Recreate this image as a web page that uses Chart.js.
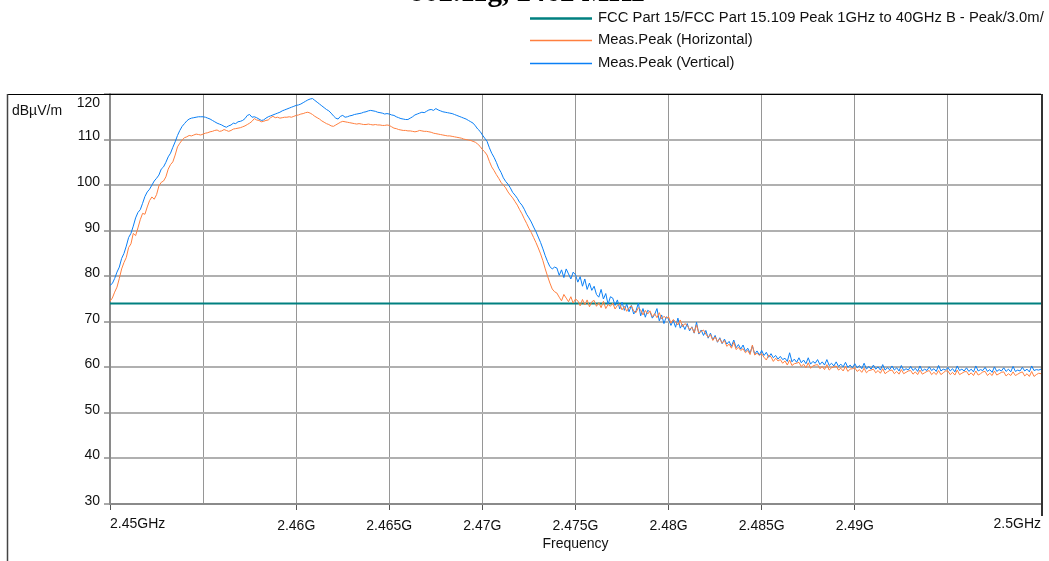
<!DOCTYPE html>
<html><head><meta charset="utf-8">
<script src="https://cdn.jsdelivr.net/npm/chart.js@4"></script>
<style>html,body{margin:0;padding:0;background:#fff;overflow:hidden}#wrap{position:relative;width:1049px;height:561px}</style>
</head><body><div id="wrap"><canvas id="c" width="1049" height="561"></canvas></div>
<script>
const chartTitle = '802.11g, 2462 MHz';
const yAxisTitle = 'dBµV/m';
const xAxisTitle = 'Frequency';
const legendLabels = ['FCC Part 15/FCC Part 15.109 Peak 1GHz to 40GHz B - Peak/3.0m/', 'Meas.Peak (Horizontal)', 'Meas.Peak (Vertical)'];
const sweepStartMHz = 2450, sweepStepMHz = 0.125;
const xTickValuesMHz = [2450, 2455, 2460, 2465, 2470, 2475, 2480, 2485, 2490, 2495, 2500];
const xTickLabels = ['2.45GHz', '', '2.46G', '2.465G', '2.47G', '2.475G', '2.48G', '2.485G', '2.49G', '', '2.5GHz'];
const yMin = 30, yMax = 120, yStep = 10;
const limitFreqMHz = [2450, 2500];
const limitLevel = [74, 74];
const horizontal = [
74.5, 75.2, 76.5, 77.6, 79.5, 81.6, 83.0, 84.1,
86.3, 87.1, 89.4, 88.9, 90.6, 92.4, 93.8, 93.6,
95.2, 96.6, 97.4, 96.9, 97.9, 99.8, 100.6, 100.9,
101.8, 103.5, 104.5, 105.1, 106.6, 108.4, 109.2, 109.9,
110.4, 110.6, 110.9, 110.8, 111.0, 111.2, 111.1, 111.0,
111.2, 111.4, 111.5, 111.7, 111.8, 112.0, 112.1, 111.8,
111.9, 112.2, 112.0, 111.8, 112.0, 112.3, 112.4, 112.5,
112.6, 112.8, 113.0, 113.3, 113.6, 114.0, 114.6, 114.3,
114.2, 113.9, 114.0, 114.2, 114.3, 114.8, 115.1, 114.8,
114.9, 114.7, 114.8, 114.9, 114.9, 115.0, 114.9, 115.1,
115.3, 115.4, 115.6, 115.7, 115.9, 116.0, 115.8, 115.5,
115.1, 114.8, 114.5, 114.1, 113.8, 113.5, 113.3, 113.0,
112.9, 113.2, 113.5, 113.8, 114.0, 113.9, 113.8, 113.7,
113.6, 113.5, 113.4, 113.5, 113.4, 113.3, 113.3, 113.4,
113.3, 113.2, 113.3, 113.2, 113.2, 113.1, 113.1, 113.2,
113.1, 112.8, 112.5, 112.4, 112.2, 112.1, 112.0, 112.0,
111.9, 111.9, 111.8, 111.7, 111.8, 112.0, 111.9, 111.8,
111.8, 111.7, 111.6, 111.4, 111.3, 111.2, 111.1, 111.0,
110.9, 110.8, 110.8, 110.7, 110.6, 110.5, 110.4, 110.3,
110.1, 110.0, 109.9, 109.8, 109.6, 109.4, 109.0, 108.5,
107.8, 107.3, 106.6, 105.2, 104.0, 103.2, 102.3, 101.5,
100.6, 100.0, 99.4, 98.5, 97.8, 97.2, 96.4, 95.6,
94.6, 93.7, 92.6, 91.6, 90.5, 89.6, 88.5, 87.4,
86.2, 84.9, 83.4, 81.6, 80.0, 78.5, 77.2, 76.6,
76.3, 75.4, 74.6, 76.0, 75.2, 74.4, 75.5, 74.1,
75.0, 74.6, 73.5, 74.9, 73.7, 74.8, 73.3, 74.4,
74.7, 73.4, 74.2, 73.1, 74.5, 72.9, 73.8, 73.4,
74.1, 72.8, 73.6, 73.9, 72.6, 73.4, 72.3, 73.1,
73.5, 72.4, 72.0, 73.1, 72.6, 71.5, 72.5, 71.7,
72.4, 71.1, 71.8, 70.9, 72.0, 70.6, 71.2, 70.8,
71.1, 69.7, 70.5, 70.0, 69.3, 70.4, 68.9, 69.6,
69.2, 68.3, 68.8, 67.6, 69.3, 67.5, 67.9, 68.2,
67.3, 66.6, 67.2, 65.9, 66.7, 65.6, 66.3, 65.3,
65.9, 64.6, 65.1, 64.2, 65.5, 63.9, 64.4, 63.7,
64.1, 63.2, 63.7, 62.8, 64.9, 62.7, 63.1, 62.6,
63.0, 62.2, 61.6, 62.7, 62.3, 61.3, 62.0, 61.4,
61.7, 60.9, 61.4, 60.5, 61.6, 60.4, 60.8, 60.9,
61.1, 60.2, 60.7, 59.9, 61.0, 59.8, 60.3, 60.5,
60.6, 59.7, 60.2, 59.5, 60.6, 59.4, 59.9, 60.1,
60.3, 59.4, 59.8, 59.2, 60.2, 59.1, 59.6, 59.7,
59.9, 59.1, 59.5, 58.9, 59.8, 58.8, 59.3, 59.4,
59.6, 58.8, 59.3, 58.7, 59.7, 58.6, 59.0, 59.3,
59.4, 58.6, 59.1, 58.5, 59.5, 58.6, 58.9, 59.2,
59.3, 58.5, 59.0, 58.4, 59.4, 58.5, 58.8, 59.1,
59.3, 58.4, 58.9, 58.4, 59.3, 58.4, 58.8, 59.2,
59.2, 58.4, 58.9, 58.3, 59.4, 58.4, 58.7, 59.0,
59.1, 58.3, 58.8, 58.2, 59.2, 58.3, 58.6, 59.0,
59.1, 58.2, 58.7, 58.2, 59.2, 58.3, 58.6, 58.9,
59.0, 58.1, 58.6, 58.2, 59.0, 58.2, 58.5, 58.8,
59.0, 58.1, 58.6, 58.0, 59.1, 58.0, 58.4, 58.7,
58.6
];
const vertical = [
78.0, 78.4, 79.5, 80.9, 82.0, 83.9, 85.0, 86.6,
88.5, 89.4, 91.0, 92.8, 94.0, 94.6, 96.0, 97.5,
98.5, 99.1, 100.0, 100.9, 101.5, 102.2, 103.5, 104.0,
105.0, 106.2, 107.0, 108.3, 109.5, 110.9, 112.0, 112.9,
113.5, 114.1, 114.5, 114.7, 114.8, 114.9, 115.0, 115.0,
115.0, 114.9, 114.7, 114.5, 114.2, 113.9, 113.6, 113.4,
113.2, 112.9, 112.7, 113.0, 113.2, 113.6, 113.5, 113.9,
114.0, 114.2, 114.6, 115.3, 115.5, 114.9, 115.0, 114.8,
114.5, 114.2, 114.3, 114.7, 115.0, 115.2, 115.4, 115.6,
115.8, 116.0, 116.3, 116.5, 116.7, 116.9, 117.1, 117.3,
117.5, 117.6, 117.8, 118.1, 118.4, 118.7, 118.9, 119.0,
118.6, 118.2, 117.8, 117.4, 117.0, 116.6, 116.3, 115.8,
115.2, 114.7, 114.5, 115.1, 115.3, 114.9, 115.0, 115.2,
115.3, 115.5, 115.6, 115.7, 115.8, 116.0, 116.1, 116.3,
116.4, 116.3, 116.2, 116.0, 115.9, 115.8, 115.6, 115.7,
115.6, 115.4, 115.3, 115.0, 114.8, 114.6, 114.5, 114.4,
114.4, 114.7, 115.0, 115.4, 115.6, 115.8, 116.0, 115.9,
116.2, 116.5, 116.6, 116.4, 116.8, 116.5, 116.3, 116.1,
116.0, 115.9, 115.8, 115.7, 115.5, 115.3, 115.1, 114.9,
114.7, 114.5, 114.2, 113.9, 113.6, 113.0, 112.3, 111.8,
111.0, 110.3, 109.6, 108.2, 107.0, 106.1, 105.0, 103.7,
102.8, 101.6, 100.8, 100.2, 99.4, 98.4, 97.8, 97.1,
96.2, 95.6, 94.7, 93.6, 92.8, 91.9, 90.8, 89.8,
88.6, 87.4, 86.0, 84.5, 83.2, 82.1, 81.6, 82.0,
81.8, 80.2, 81.4, 79.7, 81.6, 80.5, 79.4, 80.9,
80.3, 78.7, 79.9, 77.8, 79.4, 77.1, 78.5, 76.9,
77.8, 76.0, 75.4, 77.1, 75.0, 76.2, 73.8, 75.5,
75.2, 73.6, 74.8, 72.8, 74.3, 72.5, 73.9, 72.2,
73.6, 71.7, 72.4, 74.1, 71.3, 72.9, 71.0, 72.5,
72.2, 70.8, 71.6, 72.9, 70.2, 71.5, 69.6, 71.1,
70.6, 69.2, 70.3, 68.8, 70.8, 68.6, 69.5, 68.3,
69.6, 68.0, 68.9, 67.5, 69.9, 67.3, 68.2, 67.0,
68.1, 66.4, 67.5, 66.0, 67.0, 65.5, 66.5, 65.2,
66.2, 65.1, 65.7, 64.6, 66.0, 64.3, 65.0, 64.0,
64.9, 63.5, 64.2, 63.1, 64.7, 62.9, 63.6, 62.7,
63.7, 62.6, 63.3, 62.2, 63.0, 62.1, 62.6, 61.8,
62.4, 61.7, 62.0, 61.3, 63.2, 61.2, 61.8, 61.1,
62.1, 61.0, 61.6, 60.8, 62.1, 60.7, 61.3, 60.9,
61.7, 60.6, 61.2, 60.5, 61.7, 60.4, 60.9, 60.3,
61.2, 60.2, 60.7, 60.1, 61.1, 60.0, 60.5, 59.9,
60.8, 59.9, 60.4, 59.7, 60.9, 59.6, 60.2, 59.6,
60.5, 59.6, 60.1, 59.4, 60.6, 59.4, 59.9, 59.5,
60.3, 59.4, 59.9, 59.2, 60.4, 59.3, 59.7, 59.4,
60.2, 59.3, 59.8, 59.1, 60.3, 59.2, 59.6, 59.3,
60.1, 59.3, 59.7, 59.1, 60.4, 59.2, 59.6, 59.4,
60.0, 59.2, 59.7, 59.0, 60.3, 59.3, 59.6, 59.2,
59.9, 59.1, 59.6, 59.0, 60.3, 59.2, 59.5, 59.3,
60.0, 59.1, 59.5, 58.9, 60.1, 59.1, 59.5, 59.2,
59.9, 59.1, 59.6, 59.0, 60.2, 59.1, 59.4, 59.2,
60.0, 59.2, 59.6, 59.0, 60.3, 59.3, 59.5, 59.4,
59.6
];

const COL_LIMIT = '#008080', COL_H = '#ff7f3f', COL_V = '#0a7ff5';
const FONT = '"Liberation Sans", Arial, sans-serif';
const toPts = arr => arr.map((v, i) => ({ x: sweepStartMHz + i * sweepStepMHz, y: v }));

const decor = {
  id: 'decor',
  afterDraw(chart) {
    const ctx = chart.ctx, a = chart.chartArea, xs = chart.scales.x;
    ctx.save();
    // title (cut off at top)
    ctx.fillStyle = '#000';
    ctx.font = 'bold 29px "Liberation Serif", "Times New Roman", serif';
    ctx.textAlign = 'center'; ctx.textBaseline = 'alphabetic';
    ctx.fillText(chartTitle, 527, 1);
    // legend
    const rows = [18, 40, 63], cols = [COL_LIMIT, COL_H, COL_V], widths = [2.5, 1.5, 1.5];
    ctx.font = '14px ' + FONT; ctx.textAlign = 'left'; ctx.textBaseline = 'middle';
    rows.forEach((y, i) => {
      ctx.strokeStyle = cols[i]; ctx.lineWidth = widths[i];
      ctx.beginPath(); ctx.moveTo(530, y + 0.5); ctx.lineTo(592, y + 0.5); ctx.stroke();
      ctx.save(); ctx.translate(598, y); ctx.scale(1.057, 1);
      ctx.fillStyle = '#111'; ctx.fillText(legendLabels[i], 0, 0);
      ctx.restore();
    });
    // axis titles
    ctx.fillStyle = '#111';
    ctx.font = '14px ' + FONT;
    ctx.textAlign = 'left'; ctx.textBaseline = 'middle';
    ctx.fillText(yAxisTitle, 12, 111);
    ctx.textAlign = 'right';
    ctx.fillText(String(yMax), a.left - 10, 103);
    ctx.textAlign = 'center';
    ctx.fillText(xAxisTitle, (a.left + a.right) / 2, 544);
    // end tick labels aligned to edges
    ctx.textBaseline = 'top';
    ctx.textAlign = 'left';
    ctx.fillText(xTickLabels[0], xs.getPixelForValue(xTickValuesMHz[0]), a.bottom + 13);
    ctx.textAlign = 'right';
    ctx.fillText(xTickLabels[xTickLabels.length - 1], xs.getPixelForValue(xTickValuesMHz[xTickValuesMHz.length - 1]), a.bottom + 13);
    // frame
    ctx.strokeStyle = '#000'; ctx.lineWidth = 1;
    ctx.beginPath(); ctx.moveTo(7, a.top + 0.5); ctx.lineTo(a.right + 2, a.top + 0.5); ctx.stroke();
    ctx.strokeStyle = '#444'; ctx.lineWidth = 1.5;
    ctx.beginPath(); ctx.moveTo(7.5, a.top); ctx.lineTo(7.5, 561); ctx.stroke();
    ctx.strokeStyle = '#333'; ctx.lineWidth = 2;
    ctx.beginPath(); ctx.moveTo(a.right + 1, a.top); ctx.lineTo(a.right + 1, 516); ctx.stroke();
    ctx.restore();
  }
};

new Chart(document.getElementById('c'), {
  type: 'line',
  data: {
    datasets: [
      { label: legendLabels[1], data: toPts(horizontal), borderColor: COL_H, borderWidth: 1, pointRadius: 0, order: 0 },
      { label: legendLabels[2], data: toPts(vertical), borderColor: COL_V, borderWidth: 1, pointRadius: 0, order: 1 },
      { label: legendLabels[0], data: limitFreqMHz.map((f, i) => ({ x: f, y: limitLevel[i] })), borderColor: COL_LIMIT, borderWidth: 2, pointRadius: 0, order: 2 }
    ]
  },
  options: {
    responsive: false, animation: false, devicePixelRatio: 1,
    layout: { padding: { top: 94, right: 4, left: 0, bottom: 0 } },
    plugins: { legend: { display: false }, tooltip: { enabled: false }, title: { display: false } },
    elements: { line: { tension: 0 } },
    scales: {
      x: {
        type: 'linear', min: 2450, max: 2500,
        afterBuildTicks: s => { s.ticks = xTickValuesMHz.map(v => ({ value: v })); },
        afterFit: s => { s.height = 57; },
        ticks: {
          autoSkip: false, maxRotation: 0, padding: 8, color: '#111',
          font: { family: FONT, size: 14 },
          callback: (v, i) => (i === 0 || i === xTickLabels.length - 1) ? '' : xTickLabels[i]
        },
        grid: {
          color: '#969696', lineWidth: 1, tickLength: 6, tickWidth: 1,
          tickColor: c => (xTickLabels[c.index] ? '#555' : 'rgba(0,0,0,0)')
        },
        border: { display: true, color: '#8a8a8a', width: 2 }
      },
      y: {
        min: yMin, max: yMax,
        afterFit: s => { s.width = 110; },
        ticks: {
          stepSize: yStep, padding: 4, color: '#111', labelOffset: -3,
          font: { family: FONT, size: 14 },
          callback: v => (v === yMax ? '' : String(v))
        },
        grid: { color: '#b0b0b0', lineWidth: 2, tickLength: 6, tickWidth: 1, tickColor: '#555' },
        border: { display: true, color: '#8a8a8a', width: 2 }
      }
    }
  },
  plugins: [decor]
});
</script></body></html>
